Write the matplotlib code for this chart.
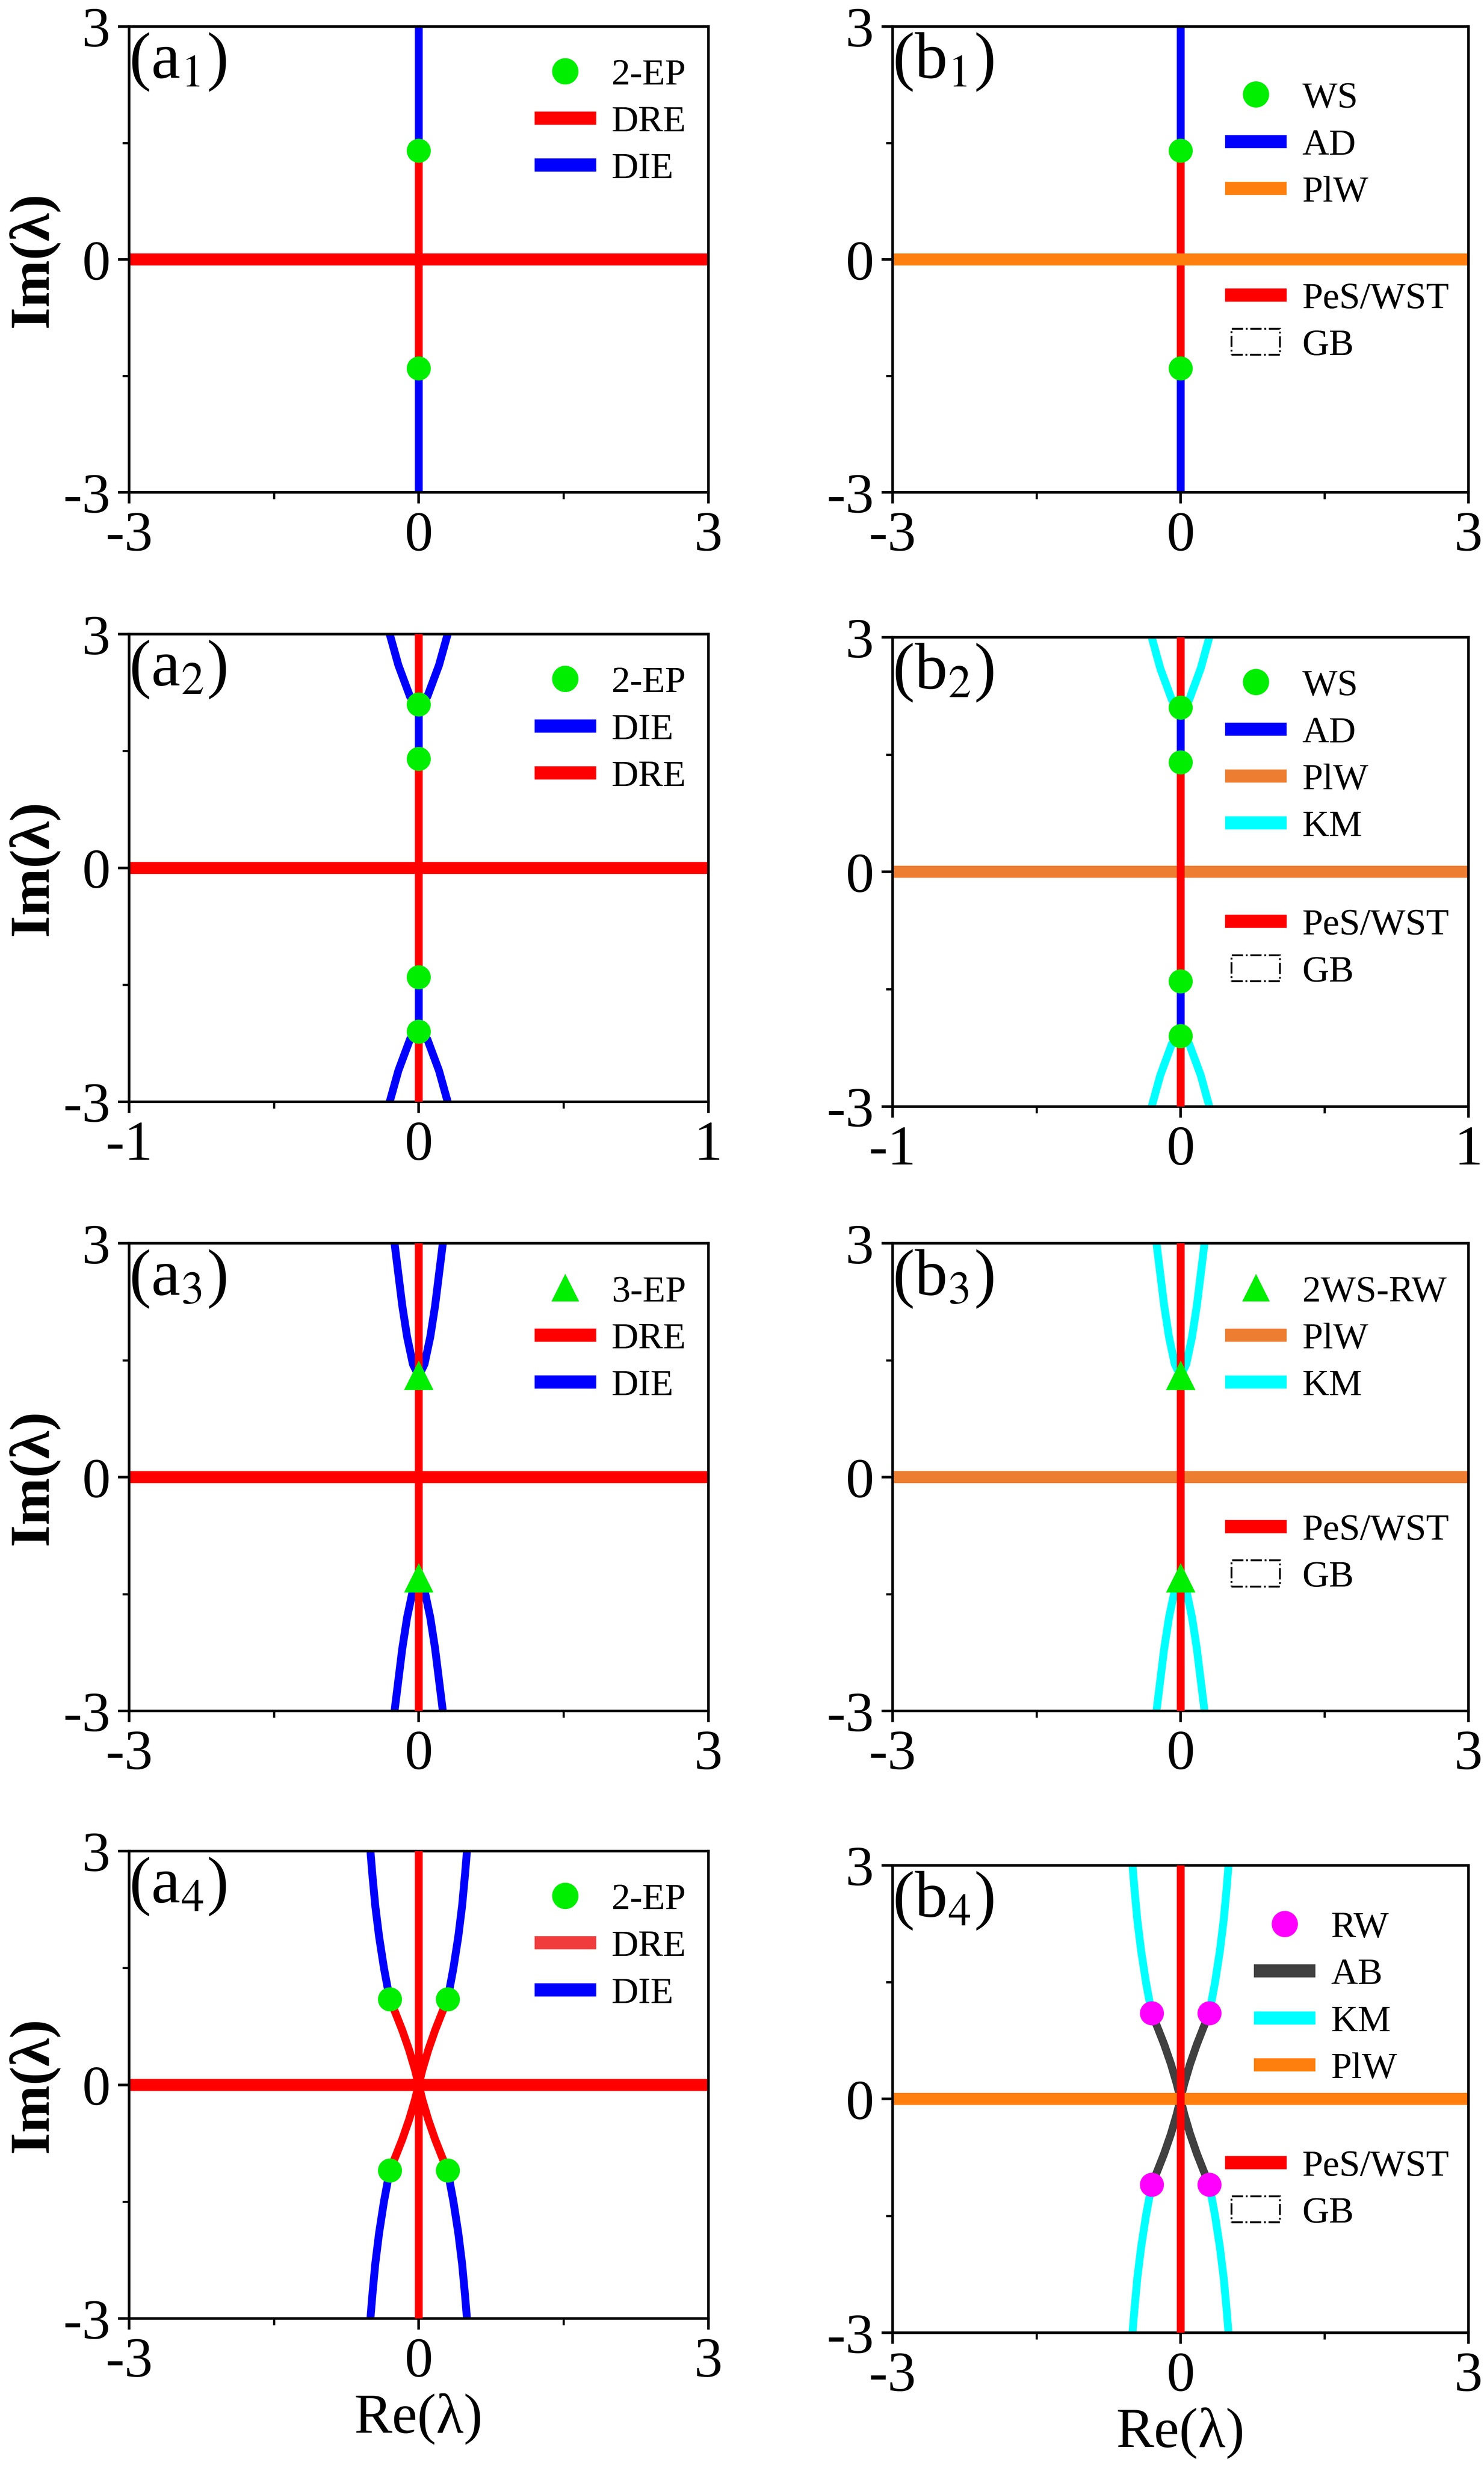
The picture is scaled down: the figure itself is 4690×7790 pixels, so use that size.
import matplotlib
matplotlib.use("Agg")
import matplotlib.pyplot as plt
import matplotlib.patches as mpatches
from matplotlib.lines import Line2D

plt.rcParams["font.family"] = ["Liberation Serif", "DejaVu Serif"]
plt.rcParams["mathtext.fontset"] = "stix"

RED = "#ff0000"
BLUE = "#0000ff"
GREEN = "#00ee00"
CYAN = "#00ffff"
ORANGE1 = "#ff7f0e"
ORANGE2 = "#ed7d31"
GREY = "#404040"
MAGENTA = "#ff00ff"

# exceptional points / marker positions
ep1_y = [1.4, -1.4]
ep2_y = [2.1, 1.4, -1.4, -2.1]
ep3_y = [1.3, -1.3]
ep4_x = [-0.3, 0.3, -0.3, 0.3]
ep4_y = [1.1, 1.1, -1.1, -1.1]

# branch curves (right half, upper)
br2_x = [0.0, 0.03, 0.05, 0.07, 0.085, 0.1]
br2_y = [2.1, 2.2, 2.4, 2.6, 2.8, 3.0]
br3_x = [0.0, 0.06, 0.12, 0.17, 0.21, 0.25]
br3_y = [1.3, 1.45, 1.8, 2.2, 2.6, 3.0]
br4_x = [0.3, 0.36, 0.41, 0.45, 0.48, 0.5]
br4_y = [1.1, 1.5, 1.9, 2.3, 2.7, 3.0]
inner4_x = [0.0, 0.04, 0.1, 0.17, 0.24, 0.3]
inner4_y = [0.0, 0.2, 0.45, 0.7, 0.92, 1.1]

W, H = 943.0, 1566.0
fig = plt.figure(figsize=(9.429, 15.66), dpi=497.5)


def make_ax(x0, x1, y0, y1):
    return fig.add_axes([x0 / W, 1 - y1 / H, (x1 - x0) / W, (y1 - y0) / H])


def style(ax, xl, xlabel=False, ylabel=True):
    ax.set_xlim(-xl, xl)
    ax.set_ylim(-3, 3)
    ax.set_xticks([-xl, 0, xl])
    ax.set_xticklabels(["%d" % -xl, "0", "%d" % xl])
    ax.set_xticks([-xl / 2, xl / 2], minor=True)
    ax.set_yticks([-3, 0, 3])
    ax.set_yticklabels(["-3", "0", "3"])
    ax.set_yticks([-1.5, 1.5], minor=True)
    ax.tick_params(labelsize=26, length=5, width=1.2, direction="out")
    ax.tick_params(which="minor", length=3, width=1)
    for s in ax.spines.values():
        s.set_linewidth(1.2)
    if ylabel:
        ax.set_ylabel("Im(λ)", fontsize=26, fontweight="bold", labelpad=2)
    if xlabel:
        ax.set_xlabel("Re(λ)", fontsize=26, labelpad=2)


def mirror(ax, xs, ys, color, lw=3.6):
    for sx in (1, -1):
        for sy in (1, -1):
            ax.plot([sx * x for x in xs], [sy * y for y in ys], color=color, lw=lw,
                    solid_capstyle="butt", zorder=2)


def label(ax, letter, idx):
    ax.text(0.0, 0.99, "(%s$_{%d}$)" % (letter, idx), transform=ax.transAxes,
            fontsize=30, va="top", ha="left")


def leg(ax, handles, names, loc, anchor):
    lg = ax.legend(handles, names, loc=loc, bbox_to_anchor=anchor, frameon=False,
                   fontsize=17, handlelength=1.3, handletextpad=0.6,
                   labelspacing=0.35, borderaxespad=0.2)
    ax.add_artist(lg)


def line_h(c):
    return Line2D([], [], color=c, lw=6)


def pt_h(c, m="o"):
    return Line2D([], [], color=c, marker=m, ls="none", markersize=11)


gb = mpatches.Patch(facecolor="none", edgecolor="k", linestyle="-.", lw=0.8)

# ---- a1
ax = make_ax(82, 450, 17, 313)
ax.plot([0, 0], [-3, -ep1_y[0]], color=BLUE, lw=3.6)
ax.plot([0, 0], [ep1_y[0], 3], color=BLUE, lw=3.6)
ax.plot([0, 0], [-ep1_y[0], ep1_y[0]], color=RED, lw=3.6)
ax.axhline(0, color=RED, lw=5.5)
ax.plot([0] * len(ep1_y), ep1_y, "o", color=GREEN, ms=10, zorder=5)
style(ax, 3)
label(ax, "a", 1)
leg(ax, [pt_h(GREEN), line_h(RED), line_h(BLUE)], ["2-EP", "DRE", "DIE"],
    "upper right", (1.0, 0.98))

# ---- b1
ax = make_ax(567, 933, 17, 313)
ax.plot([0, 0], [-3, -ep1_y[0]], color=BLUE, lw=3.6)
ax.plot([0, 0], [ep1_y[0], 3], color=BLUE, lw=3.6)
ax.plot([0, 0], [-ep1_y[0], ep1_y[0]], color=RED, lw=3.6)
ax.axhline(0, color=ORANGE1, lw=5.5)
ax.plot([0] * len(ep1_y), ep1_y, "o", color=GREEN, ms=10, zorder=5)
style(ax, 3, ylabel=False)
label(ax, "b", 1)
leg(ax, [pt_h(GREEN), line_h(BLUE), line_h(ORANGE1)], ["WS", "AD", "PlW"],
    "upper left", (0.55, 0.93))
leg(ax, [line_h(RED), gb], ["PeS/WST", "GB"], "upper left", (0.55, 0.50))

# ---- a2
ax = make_ax(82, 450, 403, 700)
mirror(ax, br2_x, br2_y, BLUE)
ax.plot([0, 0], [ep2_y[1], ep2_y[0]], color=BLUE, lw=3.6, zorder=3)
ax.plot([0, 0], [ep2_y[3], ep2_y[2]], color=BLUE, lw=3.6, zorder=3)
ax.plot([0, 0], [-ep2_y[1], ep2_y[1]], color=RED, lw=3.6, zorder=3)
ax.plot([0, 0], [ep2_y[0], 3], color=RED, lw=3.6, zorder=3)
ax.plot([0, 0], [-3, ep2_y[3]], color=RED, lw=3.6, zorder=3)
ax.axhline(0, color=RED, lw=5.5)
ax.plot([0] * len(ep2_y), ep2_y, "o", color=GREEN, ms=10, zorder=5)
style(ax, 1)
label(ax, "a", 2)
leg(ax, [pt_h(GREEN), line_h(BLUE), line_h(RED)], ["2-EP", "DIE", "DRE"],
    "upper right", (1.0, 0.98))

# ---- b2
ax = make_ax(567, 933, 405, 703)
mirror(ax, br2_x, br2_y, CYAN)
ax.plot([0, 0], [ep2_y[1], ep2_y[0]], color=BLUE, lw=3.6, zorder=3)
ax.plot([0, 0], [ep2_y[3], ep2_y[2]], color=BLUE, lw=3.6, zorder=3)
ax.plot([0, 0], [-ep2_y[1], ep2_y[1]], color=RED, lw=3.6, zorder=3)
ax.plot([0, 0], [ep2_y[0], 3], color=RED, lw=3.6, zorder=3)
ax.plot([0, 0], [-3, ep2_y[3]], color=RED, lw=3.6, zorder=3)
ax.axhline(0, color=ORANGE2, lw=5.5)
ax.plot([0] * len(ep2_y), ep2_y, "o", color=GREEN, ms=10, zorder=5)
style(ax, 1, ylabel=False)
label(ax, "b", 2)
leg(ax, [pt_h(GREEN), line_h(BLUE), line_h(ORANGE2), line_h(CYAN)],
    ["WS", "AD", "PlW", "KM"], "upper left", (0.55, 0.98))
leg(ax, [line_h(RED), gb], ["PeS/WST", "GB"], "upper left", (0.55, 0.47))

# ---- a3
ax = make_ax(82, 450, 790, 1087)
mirror(ax, br3_x, br3_y, BLUE)
ax.plot([0, 0], [-3, 3], color=RED, lw=3.6, zorder=3)
ax.axhline(0, color=RED, lw=5.5)
ax.plot([0] * len(ep3_y), ep3_y, "^", color=GREEN, ms=12, zorder=5)
style(ax, 3)
label(ax, "a", 3)
leg(ax, [pt_h(GREEN, "^"), line_h(RED), line_h(BLUE)], ["3-EP", "DRE", "DIE"],
    "upper right", (1.0, 0.98))

# ---- b3
ax = make_ax(567, 933, 790, 1087)
mirror(ax, br3_x, br3_y, CYAN)
ax.plot([0, 0], [-3, 3], color=RED, lw=3.6, zorder=3)
ax.axhline(0, color=ORANGE2, lw=5.5)
ax.plot([0] * len(ep3_y), ep3_y, "^", color=GREEN, ms=12, zorder=5)
style(ax, 3, ylabel=False)
label(ax, "b", 3)
leg(ax, [pt_h(GREEN, "^"), line_h(ORANGE2), line_h(CYAN)], ["2WS-RW", "PlW", "KM"],
    "upper left", (0.55, 0.98))
leg(ax, [line_h(RED), gb], ["PeS/WST", "GB"], "upper left", (0.55, 0.47))

# ---- a4
ax = make_ax(82, 450, 1176, 1473)
mirror(ax, br4_x, br4_y, BLUE)
mirror(ax, inner4_x, inner4_y, RED)
ax.plot([0, 0], [-3, 3], color=RED, lw=3.6, zorder=3)
ax.axhline(0, color=RED, lw=5.5)
ax.plot(ep4_x, ep4_y, "o", color=GREEN, ms=10, zorder=5)
style(ax, 3, xlabel=True)
label(ax, "a", 4)
leg(ax, [pt_h(GREEN), line_h("#f03c3c"), line_h(BLUE)], ["2-EP", "DRE", "DIE"],
    "upper right", (1.0, 0.98))

# ---- b4
ax = make_ax(567, 933, 1185, 1482)
mirror(ax, br4_x, br4_y, CYAN)
mirror(ax, inner4_x, inner4_y, GREY)
ax.plot([0, 0], [-3, 3], color=RED, lw=3.6, zorder=3)
ax.axhline(0, color=ORANGE1, lw=5.5)
ax.plot(ep4_x, ep4_y, "o", color=MAGENTA, ms=10, zorder=5)
style(ax, 3, xlabel=True, ylabel=False)
label(ax, "b", 4)
leg(ax, [pt_h(MAGENTA), line_h(GREY), line_h(CYAN), line_h(ORANGE1)],
    ["RW", "AB", "KM", "PlW"], "upper left", (0.60, 0.95))
leg(ax, [line_h(RED), gb], ["PeS/WST", "GB"], "upper left", (0.55, 0.44))

fig.savefig("out.png", dpi=497.5)
